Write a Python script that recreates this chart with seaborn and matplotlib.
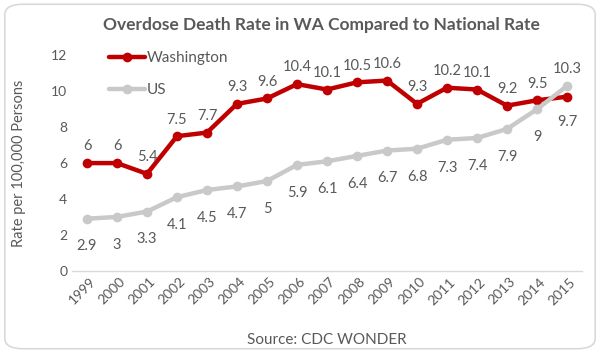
import matplotlib
matplotlib.use("Agg")
import matplotlib.pyplot as plt
from matplotlib.patches import FancyBboxPatch
from matplotlib.transforms import ScaledTranslation
import seaborn as sns
import pandas as pd

years = [str(y) for y in range(1999, 2016)]
washington = [6, 6, 5.4, 7.5, 7.7, 9.3, 9.6, 10.4, 10.1, 10.5, 10.6, 9.3, 10.2, 10.1, 9.2, 9.5, 9.7]
us = [2.9, 3, 3.3, 4.1, 4.5, 4.7, 5, 5.9, 6.1, 6.4, 6.7, 6.8, 7.3, 7.4, 7.9, 9, 10.3]
wa_label_above = [True] * 16 + [False]
us_label_above = [False] * 16 + [True]

sns.set_theme(style="white")
plt.rcParams['font.family'] = ['Lato', 'DejaVu Sans']
txt = "#595959"

df = pd.DataFrame({"Year": years * 2,
                   "Rate": washington + us,
                   "Series": ["Washington"] * len(years) + ["US"] * len(years)})

fig = plt.figure(figsize=(6.0, 3.53), dpi=100)
ax = fig.add_axes([0.12, 0.233, 0.85, 0.61])

sns.lineplot(data=df, x="Year", y="Rate", hue="Series",
             palette={"Washington": "#C00000", "US": "#C9C9C9"},
             marker="o", markersize=7, markeredgewidth=0, linewidth=3.2,
             ax=ax, legend=True)

for i, v in enumerate(washington):
    off = 12 if wa_label_above[i] else -18
    ax.annotate(f"{v:g}", (i, v), xytext=(0, off), textcoords="offset points",
                ha="center", va="center", fontsize=10.5, color=txt)
for i, v in enumerate(us):
    off = 12 if us_label_above[i] else -20
    ax.annotate(f"{v:g}", (i, v), xytext=(0, off), textcoords="offset points",
                ha="center", va="center", fontsize=10.5, color=txt)

ax.set_xlim(-0.5, len(years) - 0.5)
ax.set_ylim(0, 12)
ax.set_yticks([0, 2, 4, 6, 8, 10, 12])
ax.tick_params(axis="both", colors=txt, labelsize=10, length=0)
shift = ScaledTranslation(-5 / 100, 0, fig.dpi_scale_trans)
for lab in ax.get_xticklabels():
    lab.set_rotation(45)
    lab.set_ha("center")
    lab.set_transform(lab.get_transform() + shift)
for s in ["top", "right", "left"]:
    ax.spines[s].set_visible(False)
ax.spines["bottom"].set_color("#D9D9D9")
ax.spines["bottom"].set_linewidth(1)
ax.set_xlabel("Source: CDC WONDER", color=txt, fontsize=11)
ax.set_ylabel("Rate per 100,000 Persons", color=txt, fontsize=10.5)
ax.yaxis.set_label_coords(-0.09, 0.5)
ax.xaxis.set_label_coords(0.5, -0.29)

leg = ax.legend(loc="upper left", bbox_to_anchor=(0.045, 1.085), frameon=False,
                fontsize=11, handlelength=2.4, handletextpad=0.1, labelspacing=1.2)
for t in leg.get_texts():
    t.set_color(txt)

fig.text(0.535, 0.93, "Overdose Death Rate in WA Compared to National Rate",
         ha="center", va="center", fontsize=12.5, fontweight="bold", color=txt)

border = FancyBboxPatch((0.008, 0.012), 0.984, 0.976,
                        boxstyle="round,pad=0,rounding_size=0.03",
                        transform=fig.transFigure, facecolor="none",
                        edgecolor="#D9D9D9", linewidth=1.2)
fig.patches.append(border)

fig.savefig("out.png", dpi=100, facecolor="white")
